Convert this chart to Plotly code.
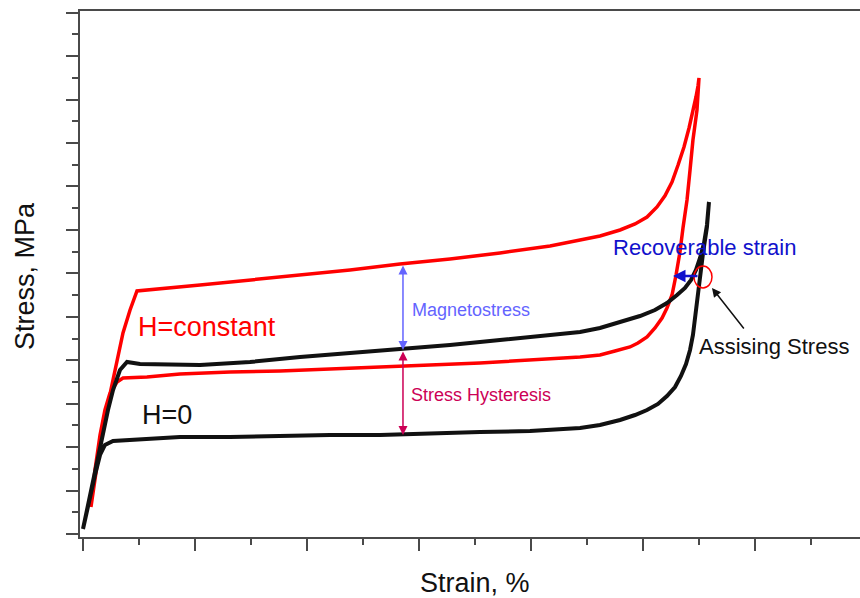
import plotly.graph_objects as go

# ---------------- data (strain %, stress MPa; arbitrary units) ----------------
h0_load_strain = [0.000, 0.045, 0.107, 0.152, 0.179, 0.223, 0.268, 0.330, 0.393, 0.509, 1.045, 1.491,
                  1.938, 2.384, 2.830, 3.277, 3.723, 4.170, 4.438, 4.616, 4.795, 4.973, 5.107, 5.214,
                  5.304, 5.375, 5.429, 5.473, 5.509, 5.545, 5.571, 5.589]
h0_load_stress = [1.15, 6.68, 14.73, 19.80, 23.25, 28.54, 33.15, 37.75, 39.59, 39.13, 38.90, 39.59,
                  40.75, 41.67, 42.36, 43.51, 44.66, 45.81, 46.50, 47.42, 48.80, 50.18, 51.56, 53.18,
                  55.02, 56.63, 58.47, 60.77, 63.54, 66.99, 71.13, 76.43]
h0_unload_strain = [5.589, 5.571, 5.536, 5.509, 5.482, 5.464, 5.446, 5.420, 5.384, 5.339, 5.286, 5.214,
                    5.134, 5.036, 4.929, 4.795, 4.616, 4.438, 3.991, 3.545, 3.098, 2.652, 2.205, 1.759,
                    1.313, 0.866, 0.509, 0.268, 0.196, 0.152, 0.107, 0.045, 0.000]
h0_unload_stress = [76.43, 70.67, 64.69, 58.47, 53.87, 49.72, 45.81, 42.36, 39.13, 36.37, 33.84, 31.77,
                    29.93, 28.54, 27.39, 26.24, 25.09, 24.40, 23.71, 23.48, 23.02, 22.79, 22.79, 22.56,
                    22.33, 22.33, 21.87, 21.41, 20.49, 18.19, 13.58, 6.68, 1.15]

hc_load_strain = [0.071, 0.107, 0.152, 0.205, 0.268, 0.357, 0.420, 0.482, 1.045, 1.491, 1.938, 2.384,
                  2.830, 3.277, 3.723, 4.170, 4.438, 4.616, 4.795, 4.929, 5.036, 5.125, 5.196, 5.259,
                  5.313, 5.366, 5.411, 5.446, 5.473, 5.491, 5.500]
hc_load_stress = [6.22, 12.43, 20.49, 27.85, 35.45, 46.27, 51.56, 55.94, 57.32, 58.47, 59.62, 60.77,
                  62.15, 63.31, 64.69, 66.30, 67.68, 68.60, 69.98, 71.36, 72.97, 75.28, 77.85, 81.03,
                  84.94, 89.09, 93.46, 97.14, 100.60, 103.13, 104.97]
hc_unload_strain = [5.500, 5.482, 5.446, 5.420, 5.393, 5.357, 5.330, 5.295, 5.259, 5.214, 5.170, 5.107,
                    5.036, 4.955, 4.884, 4.750, 4.616, 4.438, 3.991, 3.545, 3.098, 2.652, 2.205, 1.759,
                    1.313, 0.866, 0.571, 0.357, 0.304, 0.241, 0.196, 0.152, 0.107, 0.071]
hc_unload_stress = [104.97, 97.60, 90.70, 83.79, 76.89, 70.44, 64.92, 59.62, 55.02, 52.03, 49.72, 47.42,
                    45.35, 43.97, 43.05, 42.13, 41.21, 40.75, 40.05, 39.36, 38.90, 38.44, 37.98, 37.52,
                    37.29, 36.83, 36.14, 35.91, 34.99, 32.46, 28.54, 22.79, 14.73, 6.22]

# annotation anchor values (data units)
magneto_strain = 2.857
magneto_top, magneto_bottom = 62.15, 42.36
hyst_top, hyst_bottom = 42.36, 22.79
recov_from, recov_to, recov_stress = 5.500, 5.268, 59.39
assist_tip = (5.616, 56.63)
assist_tail = (5.911, 46.96)
circle_box = (5.455, 56.63, 5.616, 61.69)

FONT = "Liberation Sans, Arial, sans-serif"
AXC = "#4a4a4a"

fig = go.Figure()
fig.add_trace(go.Scatter(x=hc_load_strain + hc_unload_strain, y=hc_load_stress + hc_unload_stress,
                         mode="lines", line=dict(color="#ff0000", width=3.5), name="H=constant",
                         showlegend=False))
fig.add_trace(go.Scatter(x=h0_load_strain + h0_unload_strain, y=h0_load_stress + h0_unload_stress,
                         mode="lines", line=dict(color="#111111", width=4), name="H=0",
                         showlegend=False))

ann = []
# double-headed arrows
ann.append(dict(x=magneto_strain, y=magneto_bottom, ax=magneto_strain, ay=magneto_top, xref="x", yref="y",
                axref="x", ayref="y", text="", showarrow=True, arrowhead=2, startarrowhead=2,
                arrowside="end+start", arrowwidth=1.5, arrowsize=1.2, startarrowsize=1.2, arrowcolor="#6464ff"))
ann.append(dict(x=magneto_strain, y=hyst_bottom, ax=magneto_strain, ay=hyst_top, xref="x", yref="y",
                axref="x", ayref="y", text="", showarrow=True, arrowhead=2, startarrowhead=2,
                arrowside="end+start", arrowwidth=1.5, arrowsize=1.2, startarrowsize=1.2, arrowcolor="#cc0055"))
# recoverable strain arrow
ann.append(dict(x=recov_to, y=recov_stress, ax=recov_from, ay=recov_stress, xref="x", yref="y",
                axref="x", ayref="y", text="", showarrow=True, arrowhead=2, arrowwidth=2.5,
                arrowsize=1, arrowcolor="#1111cc"))
# assisting stress arrow
ann.append(dict(x=assist_tip[0], y=assist_tip[1], ax=assist_tail[0], ay=assist_tail[1], xref="x", yref="y",
                axref="x", ayref="y", text="", showarrow=True, arrowhead=2, arrowwidth=1.5,
                arrowsize=1.2, arrowcolor="#111111"))

def label(x, y, text, color, size):
    return dict(x=x, y=y, xref="x", yref="y", text=text, showarrow=False, xanchor="left",
                yanchor="middle", font=dict(family=FONT, size=size, color=color))

ann.append(label(0.470, 47.65, "H=constant", "#ff0000", 27))
ann.append(label(0.505, 27.39, "H=0", "#111111", 27))
ann.append(label(2.920, 51.56, "Magnetostress", "#6464ff", 18))
ann.append(label(2.912, 32.00, "Stress Hysteresis", "#cc0055", 18))
ann.append(label(4.712, 65.84, "Recoverable strain", "#1111cc", 22))
ann.append(label(5.480, 43.05, "Assising Stress", "#111111", 22))

# axis titles
ann.append(dict(x=-0.0705, y=0.496, xref="paper", yref="paper", text="Stress, MPa", textangle=-90,
                showarrow=False, xanchor="center", yanchor="middle",
                font=dict(family=FONT, size=27, color="#111111")))
ann.append(dict(x=0.506, y=-0.087, xref="paper", yref="paper", text="Strain, %",
                showarrow=False, xanchor="center", yanchor="middle",
                font=dict(family=FONT, size=27, color="#111111")))

fig.update_layout(
    width=860, height=598,
    margin=dict(l=80, r=0, t=11, b=61),
    paper_bgcolor="white", plot_bgcolor="white",
    annotations=ann,
    shapes=[dict(type="circle", xref="x", yref="y", x0=circle_box[0], y0=circle_box[1],
                 x1=circle_box[2], y1=circle_box[3], line=dict(color="#ff0000", width=1.5))],
    xaxis=dict(range=[-0.0268, 6.9375], tick0=0, dtick=1, ticks="outside", ticklen=12, tickwidth=1.5,
               tickcolor=AXC, showticklabels=False, showgrid=False, zeroline=False,
               showline=True, linecolor=AXC, linewidth=1.5, mirror=True,
               minor=dict(dtick=0.5, tick0=0, ticks="outside", ticklen=6, tickwidth=1.5, tickcolor=AXC,
                          showgrid=False)),
    yaxis=dict(range=[-0.69, 120.39], tick0=0, dtick=10, ticks="outside", ticklen=12, tickwidth=1.5,
               tickcolor=AXC, showticklabels=False, showgrid=False, zeroline=False,
               showline=True, linecolor=AXC, linewidth=1.5, mirror=False,
               minor=dict(dtick=5, tick0=0, ticks="outside", ticklen=6, tickwidth=1.5, tickcolor=AXC,
                          showgrid=False)),
)

fig.write_html("out.html")
